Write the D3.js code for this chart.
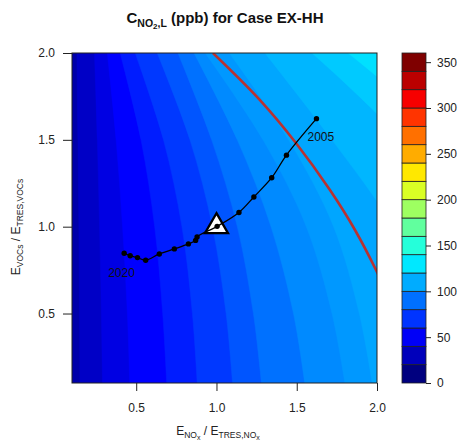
<!DOCTYPE html>
<html><head><meta charset="utf-8">
<script src="https://cdn.jsdelivr.net/npm/d3@7"></script>
<style>body{margin:0;background:#fff}svg{display:block}text{font-family:"Liberation Sans",Arial,sans-serif}</style>
</head><body><svg id="c" width="464" height="445"></svg>
<script>
// ---------- data ----------
const xTicks = [0.5, 1.0, 1.5, 2.0];
const yTicks = [0.5, 1.0, 1.5, 2.0];
const keyBreaks = [0,20,40,60,80,100,120,140,160,180,200,220,240,260,280,300,320,340,360];
const keyTicks = [0,50,100,150,200,250,300,350];
const keyColors = ["#00007F","#0000BB","#0000F7","#0034FF","#0070FF","#00ACFF","#00E8FF","#25FFDA","#61FF9E","#9EFF61","#DAFF25","#FFE800","#FFAC00","#FF7000","#FF3400","#F70000","#BB0000","#7F0000"];
// contour band boundaries of the field, x position at fixed y rows
const bandRows = [0.1, 0.5, 1.0, 1.5, 2.0];
const bandX = [
  [0.150, 0.147, 0.143, 0.137, 0.131],
  [0.290, 0.283, 0.272, 0.258, 0.240],
  [0.460, 0.445, 0.415, 0.375, 0.320],
  [0.690, 0.665, 0.615, 0.530, 0.400],
  [0.880, 0.850, 0.785, 0.670, 0.494],
  [1.100, 1.060, 0.975, 0.835, 0.631],
  [1.280, 1.230, 1.130, 0.970, 0.760],
  [1.550, 1.480, 1.340, 1.130, 0.860],
  [1.800, 1.720, 1.560, 1.290, 0.930],
  [1.970, 1.890, 1.730, 1.450, 1.080],
  [2.500, 2.350, 2.100, 1.720, 1.302],
  [3.000, 2.800, 2.500, 2.150, 1.595],
  [3.400, 3.200, 2.900, 2.450, 1.820]
];
const bandColors = ["#0000AA","#0000C6","#0000E3","#0000FF","#001CFF","#0038FF","#0055FF","#0071FF","#008AFF","#0098FF","#00A6FF","#00B6FF","#00CAFF","#00E0FF"];
// red threshold curve
const redX = [0.978, 1.271, 1.495, 1.707, 1.863, 2.0, 2.137];
const redY = [2.0, 1.729, 1.482, 1.211, 0.981, 0.739, 0.463];
// trajectory 2005 -> 2020
const trajX = [1.623, 1.436, 1.344, 1.233, 1.140, 1.004, 0.879, 0.870, 0.825, 0.7375, 0.644, 0.559, 0.508, 0.4625, 0.425];
const trajY = [1.622, 1.412, 1.282, 1.171, 1.082, 1.002, 0.941, 0.921, 0.901, 0.872, 0.843, 0.807, 0.822, 0.833, 0.847];
const refPoint = [1.0, 1.0];

// ---------- drawing ----------
const svg = d3.select("#c");
const L=72, R=377, T=53, B=383;
const x = d3.scaleLinear().domain([0.1,2.0]).range([L,R]);
const y = d3.scaleLinear().domain([0.1,2.0]).range([B,T]);

svg.append("clipPath").attr("id","pc").append("rect").attr("x",L).attr("y",T).attr("width",R-L).attr("height",B-T);
const g = svg.append("g").attr("clip-path","url(#pc)");
g.append("rect").attr("x",L).attr("y",T).attr("width",R-L).attr("height",B-T).attr("fill",bandColors[0]);
const curve = d3.line().x(d=>x(d[0])).y(d=>y(d[1])).curve(d3.curveCatmullRom.alpha(0.5));
bandX.forEach((xs,i)=>{
  const pts = bandRows.map((r,j)=>[xs[j], r]);
  const top = pts[pts.length-1], bot = pts[0];
  const p = curve(pts) + `L${x(top[0])},${T-60}L${R+400},${T-60}L${R+400},${B+60}L${x(bot[0])},${B+60}Z`;
  g.append("path").attr("d",p).attr("fill",bandColors[i+1]).attr("stroke",bandColors[i+1]).attr("stroke-width",0.5);
});
// red curve
g.append("path").attr("d", curve(redX.map((v,i)=>[v,redY[i]]))).attr("fill","none").attr("stroke","#B83232").attr("stroke-width",2.6);

// reference triangle
const cx = x(refPoint[0]), cy = y(refPoint[1]);
svg.append("path").attr("d",`M${cx},${cy-13.5}L${cx+11.5},${cy+6.5}L${cx-11.5},${cy+6.5}Z`)
  .attr("fill","#fff").attr("stroke","#000").attr("stroke-width",2.3).attr("stroke-linejoin","miter");
// trajectory
const traj = trajX.map((v,i)=>[v,trajY[i]]);
svg.append("path").attr("d", d3.line().x(d=>x(d[0])).y(d=>y(d[1])).curve(d3.curveCatmullRom)(traj))
  .attr("fill","none").attr("stroke","#000").attr("stroke-width",1.3);
svg.selectAll("circle.pt").data(traj).enter().append("circle").attr("class","pt")
  .attr("cx",d=>x(d[0])).attr("cy",d=>y(d[1])).attr("r",2.7).attr("fill","#000");
svg.append("text").attr("x",x(trajX[0])-9).attr("y",y(trajY[0])+22).attr("font-size",12).attr("fill","#111").text("2005");
svg.append("text").attr("x",x(trajX[trajX.length-1])-16).attr("y",y(trajY[trajY.length-1])+24).attr("font-size",12).attr("fill","#111").text("2020");

// box
svg.append("rect").attr("x",L).attr("y",T).attr("width",R-L).attr("height",B-T).attr("fill","none").attr("stroke","#222").attr("stroke-width",1);

// axes
const fmt = d3.format(".1f");
const ax = svg.append("g").attr("transform",`translate(0,${B})`).call(d3.axisBottom(x).tickValues(xTicks).tickFormat(fmt).tickSize(8).tickPadding(12));
const ay = svg.append("g").attr("transform",`translate(${L},0)`).call(d3.axisLeft(y).tickValues(yTicks).tickFormat(fmt).tickSize(9).tickPadding(8));
[ax,ay].forEach(a=>{a.select(".domain").remove();a.selectAll("text").attr("font-size",12).attr("fill","#222").attr("font-family","Liberation Sans, Arial, sans-serif");a.selectAll("line").attr("stroke","#222");});

// key
const k = d3.scaleLinear().domain([0,360]).range([B,T]);
const KX=402, KW=24;
const kg = svg.append("g");
kg.selectAll("rect").data(keyColors).enter().append("rect")
  .attr("x",KX).attr("width",KW).attr("y",(d,i)=>k(keyBreaks[i+1])).attr("height",(d,i)=>k(keyBreaks[i])-k(keyBreaks[i+1]))
  .attr("fill",d=>d).attr("stroke","#222").attr("stroke-width",0.8);
const ka = svg.append("g").attr("transform",`translate(${KX+KW},0)`).call(d3.axisRight(k).tickValues(keyTicks).tickSize(5).tickPadding(6));
ka.select(".domain").remove();
ka.selectAll("text").attr("font-size",12).attr("fill","#222").attr("font-family","Liberation Sans, Arial, sans-serif");
ka.selectAll("line").attr("stroke","#222");

// title
const tt = svg.append("text").attr("x",225).attr("y",23).attr("text-anchor","middle").attr("font-size",15).attr("font-weight","bold").attr("fill","#111");
tt.append("tspan").text("C");
tt.append("tspan").attr("font-size",10.5).attr("dy",4).text("NO");
tt.append("tspan").attr("font-size",8).attr("dy",2).text("2");
tt.append("tspan").attr("font-size",10.5).attr("dy",-2).text(",L");
tt.append("tspan").attr("dy",-4).text(" (ppb) for Case EX-HH");

// x label
const xl = svg.append("text").attr("x",218).attr("y",435).attr("text-anchor","middle").attr("font-size",12).attr("fill","#222");
xl.append("tspan").text("E");
xl.append("tspan").attr("font-size",8.5).attr("dy",3).text("NO");
xl.append("tspan").attr("font-size",7).attr("dy",2).text("x");
xl.append("tspan").attr("dy",-5).text(" / E");
xl.append("tspan").attr("font-size",8.5).attr("dy",3).text("TRES,NO");
xl.append("tspan").attr("font-size",7).attr("dy",2).text("x");
// y label
const yl = svg.append("text").attr("transform","translate(20,227) rotate(-90)").attr("text-anchor","middle").attr("font-size",12).attr("fill","#222");
yl.append("tspan").text("E");
yl.append("tspan").attr("font-size",8.5).attr("dy",3).text("VOCs");
yl.append("tspan").attr("dy",-3).text(" / E");
yl.append("tspan").attr("font-size",8.5).attr("dy",3).text("TRES,VOCs");
</script></body></html>
